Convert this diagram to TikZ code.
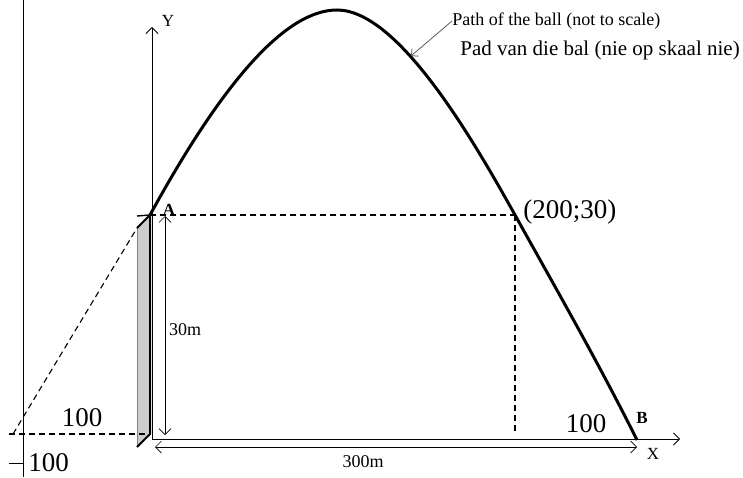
\documentclass[tikz,border=0pt]{standalone}
\usepackage{fontspec}
\setmainfont{Liberation Serif}
\usetikzlibrary{arrows.meta}
\tikzset{every picture/.style={line width=0.8pt}}
\tikzset{
  ballpath/.style={line width=3pt, line join=round},
  guide/.style={dashed, line width=1.1pt, dash pattern=on 6pt off 4pt},
  dimline/.style={line width=0.7pt, <->},
  lblbig/.style={font=\fontsize{27}{30}\selectfont, inner sep=0pt},
  lblmid/.style={font=\fontsize{21}{24}\selectfont, inner sep=0pt},
  lblsmall/.style={font=\fontsize{18}{20}\selectfont, inner sep=0pt},
  lblax/.style={font=\fontsize{17}{19}\selectfont, inner sep=0pt}
}

\begin{document}
\begin{tikzpicture}[x=1pt, y=1pt, >={Straight Barb[length=6pt, width=12pt]}]
      \useasboundingbox (0,0) rectangle (743,477);
      % points of the figure
      \coordinate (A)   at (150,262);
      \coordinate (P)   at (515,262);
      \coordinate (Pf)  at (515,44);
      \coordinate (B)   at (637,37);
      \coordinate (top) at (337,467);
      \coordinate (O)   at (152,38);
      \coordinate (Yt)  at (152,450);
      \coordinate (Xt)  at (680,38);
      \coordinate (tl)  at (137,249);
      \coordinate (bl)  at (137,30);
      \coordinate (br)  at (150,43);
      \coordinate (tk)  at (137,261);
      \coordinate (far) at (13,43);
      \coordinate (farb) at (9,43);
      \coordinate (mt)  at (23,477);
      \coordinate (mb)  at (23,0);
      \coordinate (mk)  at (9,14);
      \coordinate (mk2) at (23,14);
      % tower
      \fill[gray!40] (tl) -- (A) -- (br) -- (bl) -- cycle;
      \draw[gray, line width=0.6pt] (tl) -- (bl);
      \draw[line width=2pt] (tl) -- (A) -- (br) -- (bl);
      \draw[line width=1.4pt] (tk) -- (A);
      % axes
      \draw[->] (O) -- (Yt);
      \draw[->] (O) -- (Xt);
      \node[lblax] (ylab) at (168,456) {Y};
      \node[lblax] (xlab) at (653,23) {X};
      % left line and tick
      \draw (mt) -- (mb);
      \draw (mk) -- (mk2);
      \node[lblbig, anchor=west] (m100) at (28,14) {100};
      % guide lines
      \draw[guide] (far) -- (tl);
      \draw[guide] (farb) -- (br);
      \draw[guide] (A) -- (P);
      \draw[guide] (P) -- (Pf);
      % dimensions
      \coordinate (d30t) at (165,261);
      \coordinate (d30b) at (165,42);
      \coordinate (d300l) at (155,30);
      \coordinate (d300r) at (637,30);
      \draw[dimline] (d30t) -- (d30b);
      \draw[dimline] (d300l) -- (d300r);
      \node[lblsmall] (l30) at (185,147) {30m};
      \node[lblsmall] (l300) at (363,15) {300m};
      % path of the ball
      \draw[ballpath] (A) .. controls (225,399) and (287,467) .. (top)
        .. controls (397,467) and (470,343) .. (P)
        .. controls (555,190) and (597,117) .. (B);
      % labels
      \node[lblax] (labA) at (169,267) {\textbf{A}};
      \node[lblax] (labB) at (642,59) {\textbf{B}};
      \node[lblbig, anchor=west] (labP) at (523,265) {(200;30)};
      \node[lblbig] (l100a) at (82,59) {100};
      \node[lblbig] (l100b) at (586,53) {100};
      \node[lblsmall, anchor=west] (en) at (452,456) {Path of the ball (not to scale)};
      \node[lblmid, anchor=west] (af) at (460,427) {Pad van die bal (nie op skaal nie)};
      \coordinate (hit) at (411,421);
      \draw[->, gray!70!black, line width=0.8pt, >={Straight Barb[length=5pt, width=10pt]}] (en.west) -- (hit);
    \end{tikzpicture}
\end{document}
